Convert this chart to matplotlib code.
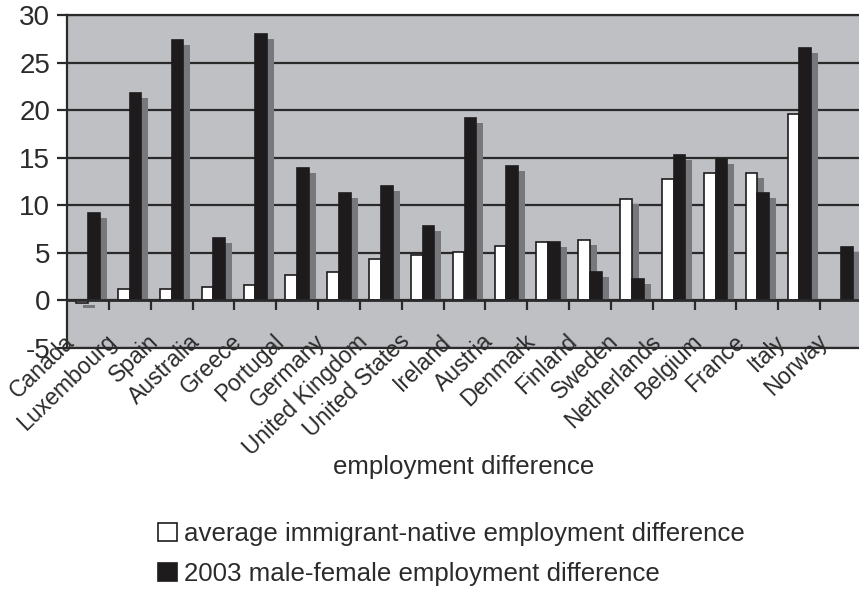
import numpy as np
import matplotlib
matplotlib.use("Agg")
import matplotlib.pyplot as plt
import matplotlib.transforms as mtransforms
from matplotlib.patches import Rectangle

plt.rcParams['font.family'] = ['Liberation Sans', 'DejaVu Sans']
plt.rcParams['axes.unicode_minus'] = False

countries = ['Canada', 'Luxembourg', 'Spain', 'Australia', 'Greece', 'Portugal',
             'Germany', 'United Kingdom', 'United States', 'Ireland', 'Austria',
             'Denmark', 'Finland', 'Sweden', 'Netherlands', 'Belgium', 'France',
             'Italy', 'Norway']
immigrant_native = [-0.3, 1.2, 1.2, 1.4, 1.6, 2.7, 3.0, 4.4, 4.8, 5.1, 5.7,
                    6.1, 6.4, 10.7, 12.8, 13.4, 13.4, 19.6, np.nan]
male_female = [9.2, 21.8, 27.4, 6.6, 28.0, 13.9, 11.3, 12.0, 7.8, 19.2, 14.1,
               6.1, 3.0, 2.2, 15.3, 14.9, 11.3, 26.5, 5.6]
yticks = [-5, 0, 5, 10, 15, 20, 25, 30]

bg = '#bfc0c4'
shadow_col = '#77787c'
black = '#1e1b1c'
text_col = '#2b2b2b'

W, H = 859, 589
fig = plt.figure(figsize=(W / 100, H / 100), dpi=100)
ax = fig.add_axes([67 / W, 1 - 348 / H, (862 - 67) / W, (348 - 15) / H])
ax.set_facecolor(bg)

x = np.arange(len(countries))
w = 0.28

# shadows: shifted right and down, cut at the zero line
shift = mtransforms.offset_copy(ax.transData, fig=fig, x=7, y=-5, units='dots')
clip_tr = mtransforms.blended_transform_factory(ax.transAxes, ax.transData)
for vals, pos in [(immigrant_native, x - w / 2), (male_female, x + w / 2)]:
    sh = ax.bar(pos, vals, w, color=shadow_col, linewidth=0, transform=shift, zorder=2)
    for p, v in zip(sh.patches, vals):
        if v > 0:
            r = Rectangle((0, 0), 1, 100, transform=clip_tr)
            p.set_clip_path(r)

b1 = ax.bar(x - w / 2, immigrant_native, w, color='white', edgecolor=black,
            linewidth=1.2, zorder=3, label='average immigrant-native employment difference')
b2 = ax.bar(x + w / 2, male_female, w, color=black, edgecolor=black,
            linewidth=1.2, zorder=3, label='2003 male-female employment difference')

ax.set_xlim(-0.5, len(countries) - 0.5)
ax.set_ylim(-5, 30)
ax.set_yticks(yticks)
ax.yaxis.grid(True, color='#2a2a2a', linewidth=1.6, zorder=1)
ax.set_axisbelow(True)
ax.axhline(0, color='#2a2a2a', linewidth=2, zorder=4)
ax.tick_params(axis='y', direction='out', length=7, width=1.6, color='#2a2a2a',
               labelsize=20, labelcolor=text_col, pad=5)

for s in ['left', 'top', 'bottom']:
    ax.spines[s].set_linewidth(1.6)
    ax.spines[s].set_color('#2a2a2a')
ax.spines['right'].set_visible(False)

# category ticks sit on the zero line
sec = ax.secondary_xaxis(0, transform=ax.transData)
sec.set_xticks(x[1:] - 0.5)
sec.tick_params(axis='x', direction='out', length=7, width=1.6, color='#2a2a2a',
                labelbottom=False)
sec.spines['bottom'].set_visible(False)

ax.set_xticks(x - 0.5 + 0.1)
ax.set_xticklabels(countries, rotation=44, ha='right', va='center',
                   rotation_mode='anchor')
ax.tick_params(axis='x', length=0, labelsize=16.5, labelcolor=text_col, pad=-7)

fig.text(464 / W, 1 - 467 / H, 'employment difference', ha='center', va='center',
         fontsize=18.6, color=text_col)

fig.legend(handles=[b1, b2], loc='center left', bbox_to_anchor=(158 / W, 1 - 554 / H),
           frameon=False, fontsize=18.6, handlelength=0.74, handleheight=0.74,
           handletextpad=0.25, labelspacing=0.62, borderpad=0, borderaxespad=0,
           labelcolor=text_col)

fig.savefig('out.png', dpi=100)
